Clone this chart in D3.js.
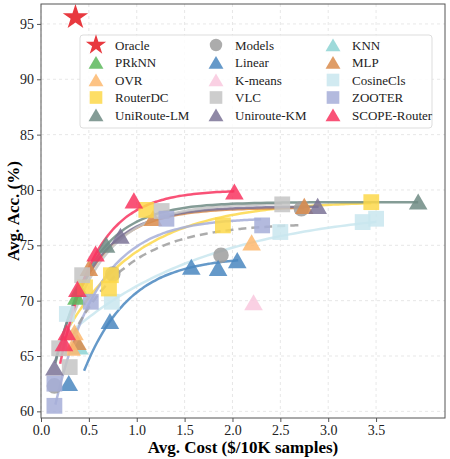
<!DOCTYPE html>
<html>
<head>
<meta charset="utf-8">
<script src="https://cdn.jsdelivr.net/npm/d3@7"></script>
<style>
  body { margin: 0; background: #fff; }
  text { font-family: "Liberation Serif", "Times New Roman", serif; }
</style>
</head>
<body>
<div id="chart"></div>
<script>
// methods: name, marker, colour
const methods = [
  ['Oracle', 'star', '#e8393f'], ['Models', 'circle', '#9e9e9e'], ['KNN', 'triangle', '#8dd3d3'],
  ['PRkNN', 'triangle', '#5cb85c'], ['Linear', 'triangle', '#4a87c0'], ['MLP', 'triangle', '#d98b4b'],
  ['OVR', 'triangle', '#fdb86e'], ['K-means', 'triangle', '#f9c8de'], ['CosineCls', 'square', '#c9e6ef'],
  ['RouterDC', 'square', '#fdd84a'], ['VLC', 'square', '#c4c4c4'], ['ZOOTER', 'square', '#a6aed8'],
  ['UniRoute-LM', 'triangle', '#6f8b84'], ['Uniroute-KM', 'triangle', '#7b7396'], ['SCOPE-Router', 'triangle', '#f8345f']
];
const legendOrder = ['Oracle', 'PRkNN', 'OVR', 'RouterDC', 'UniRoute-LM',
  'Models', 'Linear', 'K-means', 'VLC', 'Uniroute-KM',
  'KNN', 'MLP', 'CosineCls', 'ZOOTER', 'SCOPE-Router'];

// points [cost, acc]
const points = {
  'Oracle': [[0.36, 95.6]],
  'Models': [[0.14, 62.3], [0.75, 72.4], [1.88, 74.1], [2.72, 78.3]],
  'KNN': [[0.40, 65.8]],
  'PRkNN': [[0.37, 70.3], [0.40, 71.0]],
  'Linear': [[0.29, 62.5], [0.72, 68.1], [1.57, 73.0], [1.85, 72.9], [2.05, 73.6]],
  'OVR': [[0.32, 65.7], [0.35, 67.1], [2.20, 75.2]],
  'K-means': [[2.22, 69.8]],
  'CosineCls': [[0.27, 68.8], [0.74, 69.9], [2.50, 76.2], [3.36, 77.1], [3.50, 77.4]],
  'RouterDC': [[0.46, 71.2], [0.71, 71.1], [0.73, 72.3], [1.10, 78.2], [1.90, 76.8], [3.45, 78.9]],
  'VLC': [[0.19, 65.7], [0.30, 64.0], [0.43, 72.3], [1.26, 78.1], [2.52, 78.7]],
  'ZOOTER': [[0.14, 60.5], [0.14, 62.5], [0.52, 69.9], [1.31, 77.4], [2.31, 76.8]],
  'MLP': [[0.38, 66.2], [0.50, 72.9], [1.17, 77.4], [2.75, 78.5]],
  'UniRoute-LM': [[0.68, 75.0], [3.94, 78.9]],
  'Uniroute-KM': [[0.14, 63.9], [0.83, 75.8], [2.89, 78.5]],
  'SCOPE-Router': [[0.24, 66.1], [0.27, 67.1], [0.38, 71.0], [0.57, 74.2], [0.97, 79.0], [2.02, 79.8]]
};

// fitted curves acc = a - b*exp(-c*cost): [a, b, c, from, to]
const fits = {
  'CosineCls': [78.5, 13.9, 0.66, 0.3, 3.5],
  'Linear': [74.0, 26.6, 2.1, 0.45, 2.06],
  'RouterDC': [79.0, 16.6, 1.29, 0.3, 3.45],
  'ZOOTER': [77.5, 23.5, 2.2, 0.15, 2.3],
  'Models': [77.0, 17.8, 1.7, 0.33, 2.72],
  'MLP': [78.4, 20, 2.4, 0.3, 2.75],
  'Uniroute-KM': [78.5, 20, 2.4, 0.15, 2.9],
  'VLC': [78.8, 22, 2.3, 0.2, 2.52],
  'UniRoute-LM': [78.9, 21.1, 2.48, 0.15, 3.94],
  'SCOPE-Router': [80.0, 26.9, 2.69, 0.2, 2.02]
};

const xTicks = [0, 0.5, 1, 1.5, 2, 2.5, 3, 3.5];
const yTicks = [60, 65, 70, 75, 80, 85, 90, 95];

const W = 450, H = 459;
const svg = d3.select('#chart').append('svg').attr('width', W).attr('height', H);
const L = 41, R = 445, T = 4, B = 418;
const x = d3.scaleLinear().domain([0, 4.22]).range([L, R]);
const y = d3.scaleLinear().domain([59.4, 96.8]).range([B, T]);
const colour = new Map(methods.map(m => [m[0], m[2]]));
const shape = new Map(methods.map(m => [m[0], m[1]]));

// grid
svg.append('g').selectAll('line').data(xTicks).join('line')
  .attr('x1', d => x(d)).attr('x2', d => x(d)).attr('y1', T).attr('y2', B)
  .attr('stroke', '#ddd').attr('stroke-dasharray', '3,3').attr('stroke-width', 0.7);
svg.append('g').selectAll('line').data(yTicks).join('line')
  .attr('y1', d => y(d)).attr('y2', d => y(d)).attr('x1', L).attr('x2', R)
  .attr('stroke', '#ddd').attr('stroke-dasharray', '3,3').attr('stroke-width', 0.7);

// curves
const line = d3.line().x(d => x(d[0])).y(d => y(d[1])).curve(d3.curveBasis);
Object.entries(fits).forEach(([name, [a, b, c, x0, x1]]) => {
  const pts = d3.range(0, 61).map(i => {
    const cx = x0 + (x1 - x0) * i / 60;
    return [cx, a - b * Math.exp(-c * cx)];
  });
  svg.append('path').attr('d', line(pts)).attr('fill', 'none')
    .attr('stroke', colour.get(name)).attr('stroke-width', 2.5).attr('opacity', 0.85)
    .attr('stroke-dasharray', name === 'Models' ? '8,5' : null);
});

// markers
const sym = {
  star: d3.symbol().type(d3.symbolStar).size(200),
  circle: d3.symbol().type(d3.symbolCircle).size(190),
  triangle: d3.symbol().type(d3.symbolTriangle).size(150),
  square: d3.symbol().type(d3.symbolSquare).size(250)
};
methods.forEach(([name, sh, col]) => {
  svg.append('g').selectAll('path').data(points[name]).join('path')
    .attr('d', sym[sh]())
    .attr('transform', d => `translate(${x(d[0])},${y(d[1]) + (sh === 'triangle' ? 2 : 0)})`)
    .attr('fill', col).attr('opacity', name === 'Oracle' ? 1 : 0.85);
});

// frame
svg.append('rect').attr('x', L).attr('y', T).attr('width', R - L).attr('height', B - T)
  .attr('fill', 'none').attr('stroke', '#555').attr('stroke-width', 1);

// axes
const xAxis = svg.append('g').attr('transform', `translate(0,${B})`)
  .call(d3.axisBottom(x).tickValues(xTicks).tickFormat(d3.format('.1f')).tickSize(4));
const yAxis = svg.append('g').attr('transform', `translate(${L},0)`)
  .call(d3.axisLeft(y).tickValues(yTicks).tickSize(4));
[xAxis, yAxis].forEach(g => {
  g.attr('font-family', '"Liberation Serif", serif').attr('font-size', 14);
  g.select('.domain').remove();
  g.selectAll('line').attr('stroke', '#555');
  g.selectAll('text').attr('fill', '#222');
});

svg.append('text').attr('x', (L + R) / 2).attr('y', 453).attr('text-anchor', 'middle')
  .attr('font-size', 17).attr('font-weight', 'bold').text('Avg. Cost ($/10K samples)');
svg.append('text').attr('transform', `translate(19,${(T + B) / 2}) rotate(-90)`)
  .attr('text-anchor', 'middle').attr('font-size', 17).attr('font-weight', 'bold').text('Avg. Acc. (%)');

// legend
const lg = svg.append('g');
lg.append('rect').attr('x', 80).attr('y', 35).attr('width', 352).attr('height', 93).attr('rx', 3)
  .attr('fill', '#fff').attr('fill-opacity', 0.85).attr('stroke', '#ddd');
const colX = [96, 216, 333];
legendOrder.forEach((name, i) => {
  const cx = colX[Math.floor(i / 5)], cy = 45 + (i % 5) * 17.5;
  lg.append('path').attr('d', sym[shape.get(name)]())
    .attr('transform', `translate(${cx},${cy + (shape.get(name) === 'triangle' ? 2 : 0)}) scale(0.8)`)
    .attr('fill', colour.get(name)).attr('opacity', name === 'Oracle' ? 1 : 0.85);
  lg.append('text').attr('x', cx + 19).attr('y', cy + 4.5).attr('font-size', 13).attr('fill', '#222').text(name);
});
</script>
</body>
</html>
